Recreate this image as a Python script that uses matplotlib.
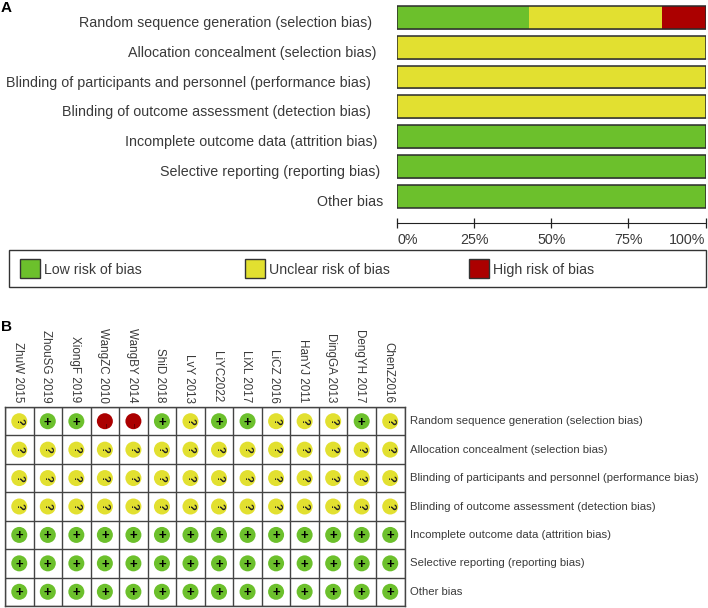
import numpy as np
import matplotlib
matplotlib.use("Agg")
from matplotlib import pyplot as plt
from matplotlib.patches import Rectangle

plt.rcParams['font.family'] = ['Liberation Sans', 'DejaVu Sans']

W, H = 708, 608
GREEN, YELLOW, RED = '#6cc02c', '#e2e030', '#ab0000'
TEXT = '#3a3a3a'

domains = ["Random sequence generation (selection bias)",
           "Allocation concealment (selection bias)",
           "Blinding of participants and personnel (performance bias)",
           "Blinding of outcome assessment (detection bias)",
           "Incomplete outcome data (attrition bias)",
           "Selective reporting (reporting bias)",
           "Other bias"]
low_pct = [42.9, 0, 0, 0, 100, 100, 100]
unclear_pct = [42.9, 100, 100, 100, 0, 0, 0]
high_pct = [14.2, 0, 0, 0, 0, 0, 0]
label_right = [372, 376, 371, 371, 377.5, 380, 383]
pct_ticks = [0, 25, 50, 75, 100]

studies = ["ZhuW 2015", "ZhouSG 2019", "XiongF 2019", "WangZC 2010", "WangBY 2014",
           "ShiD 2018", "LvY 2013", "LiYC2022", "LiXL 2017", "LiCZ 2016",
           "HanYJ 2011", "DingGA 2013", "DengYH 2017", "ChenZ2016"]
# one row per domain, one letter per study: L low, U unclear, H high
judgements = ["ULLHHLULLUUULU",
              "UUUUUUUUUUUUUU",
              "UUUUUUUUUUUUUU",
              "UUUUUUUUUUUUUU",
              "LLLLLLLLLLLLLL",
              "LLLLLLLLLLLLLL",
              "LLLLLLLLLLLLLL"]
legend_names = ["Low risk of bias", "Unclear risk of bias", "High risk of bias"]

def axes_px(fig, x0, y0, x1, y1, **kw):
    """Axes from pixel box, y counted from the top."""
    return fig.add_axes([x0 / W, 1 - y1 / H, (x1 - x0) / W, (y1 - y0) / H], **kw)

fig = plt.figure(figsize=(W / 100, H / 100), dpi=100)

# overlay in pixels for free text and the legend box
bg = axes_px(fig, 0, 0, W, H)
bg.set_xlim(0, W)
bg.set_ylim(H, 0)
bg.axis('off')

### Panel A
ax = axes_px(fig, 397, 2.6, 705.5, 211)
y = np.arange(len(domains))
low = np.array(low_pct)
unclear = np.array(unclear_pct)
high = np.array(high_pct)
for left, vals, col in [(0 * low, low, GREEN), (low, unclear, YELLOW), (low + unclear, high, RED)]:
    ax.barh(y, vals, left=left, height=0.77, color=col, edgecolor='none', zorder=2)
# outline of each stacked bar, with the soft shadow under it
ax.barh(y + 0.03, 100, height=0.77, color='#b5b5b5', edgecolor='none', zorder=1)
ax.barh(y, 100, height=0.77, color='none', edgecolor='#2b2b2b', linewidth=1.1, zorder=3)
ax.set_xlim(0, 100)
ax.set_ylim(6.5, -0.5)
ax.patch.set_visible(False)
for s in ['top', 'left', 'right']:
    ax.spines[s].set_visible(False)
ax.spines['bottom'].set_position(('outward', 12 * 0.72))
ax.spines['bottom'].set_color('#222222')
ax.set_yticks([])
ax.set_xticks(pct_ticks)
ax.set_xticklabels(["{}%".format(t) for t in pct_ticks], fontsize=10.3, color=TEXT)
ax.tick_params(axis='x', direction='inout', length=7.5, width=0.9, pad=3.5, color='#222222')
ax.get_xticklabels()[0].set_ha('left')
ax.get_xticklabels()[-1].set_ha('right')

for i, name in enumerate(domains):
    bg.text(label_right[i], 23 + 29.78 * i, name, ha='right', va='center', fontsize=10.3, color=TEXT)
bg.text(1, 8, "A", fontsize=11, fontweight='bold', color='black', ha='left', va='center')

# legend box
bg.add_patch(Rectangle((8.5, 250), 697, 37, facecolor='white', edgecolor='#333333', linewidth=1.0))
for x0, col, name in zip([20, 245, 469], [GREEN, YELLOW, RED], legend_names):
    bg.add_patch(Rectangle((x0, 258.5), 20, 19.5, facecolor=col, edgecolor='#333333', linewidth=1.0))
    bg.text(x0 + 24, 270, name, ha='left', va='center', fontsize=10.2, color=TEXT)

### Panel B
grid = axes_px(fig, 5, 407, 404.5, 606)
grid.set_xlim(0, len(studies))
grid.set_ylim(len(domains), 0)
grid.set_xticks(np.arange(len(studies) + 1))
grid.set_yticks(np.arange(len(domains) + 1))
grid.grid(True, color='#444444', linewidth=1.0)
grid.tick_params(length=0, labelbottom=False, labelleft=False)
grid.set_axisbelow(True)
for s in grid.spines.values():
    s.set_color('#444444')
    s.set_linewidth(1.0)

colors = {'L': GREEN, 'U': YELLOW, 'H': RED}
for r, row in enumerate(judgements):
    for c, j in enumerate(row):
        grid.scatter(c + 0.5, r + 0.5, s=(16 * 0.72) ** 2, color=colors[j], edgecolor='none', zorder=3)
        if j == 'L':
            grid.text(c + 0.5, r + 0.5, '+', ha='center', va='center_baseline', fontsize=9.5,
                      fontweight='bold', color='#000000', zorder=4)
        elif j == 'U':
            grid.text(c + 0.5, r + 0.5, '?', ha='center', va='center', fontsize=8,
                      rotation=-90, fontweight='bold', color='#222222', zorder=4)
        else:
            grid.text(c + 0.5, r + 0.62, '\u2013', ha='center', va='center', fontsize=5,
                      rotation=-90, color='#300000', zorder=4)

for c, name in enumerate(studies):
    bg.text(5 + 28.5 * (c + 0.5) - 1.3, 402.5, name, rotation=-90, ha='center', va='bottom', fontsize=8.4, color=TEXT)
for r, name in enumerate(domains):
    bg.text(410, 407 + 28.43 * (r + 0.5), name, ha='left', va='center', fontsize=8.2, color=TEXT)
bg.text(1, 327, "B", fontsize=11, fontweight='bold', color='black', ha='left', va='center')

fig.savefig("out.png", dpi=100)
